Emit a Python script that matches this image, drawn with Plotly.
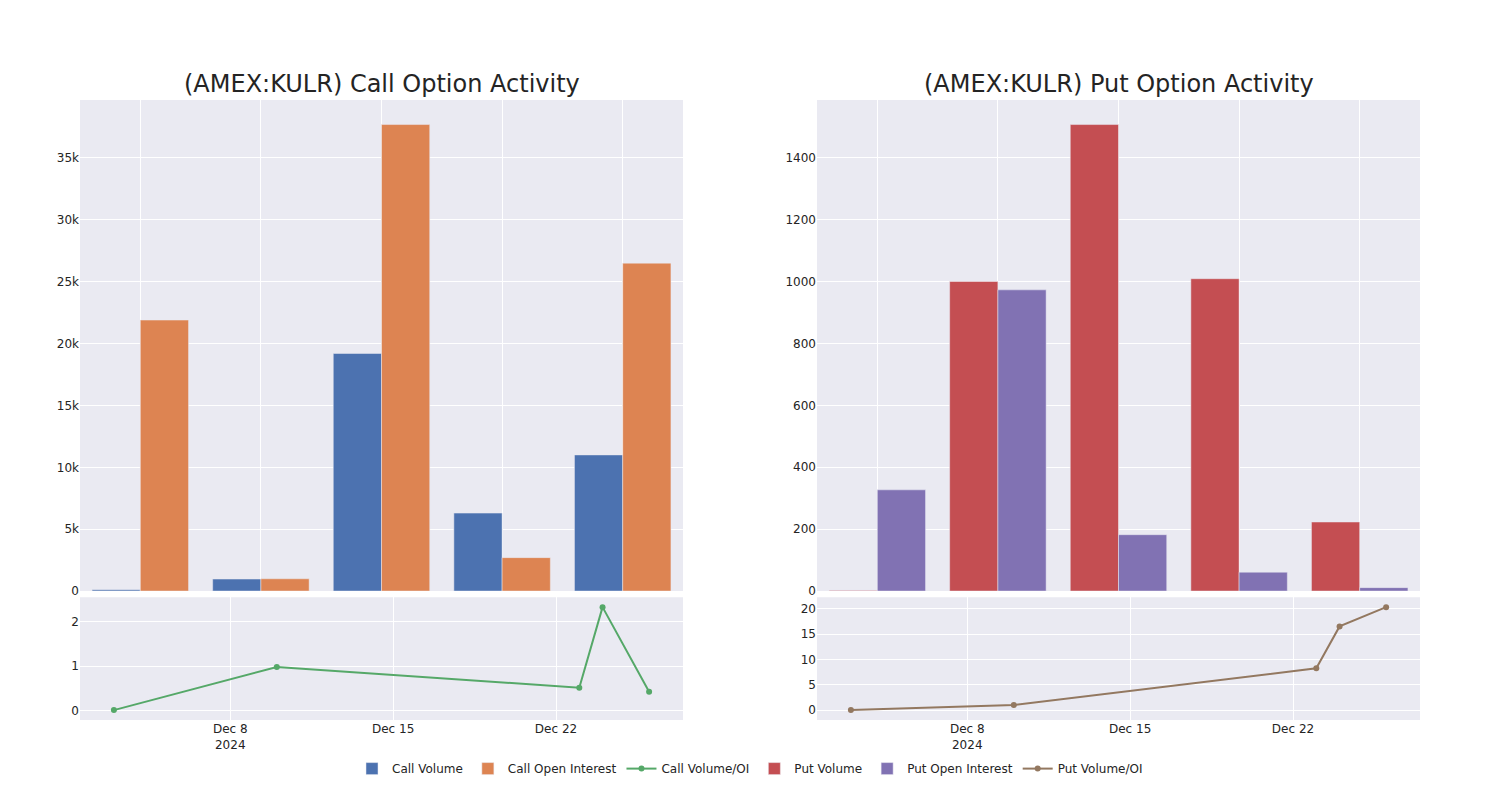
import plotly.graph_objects as go
from plotly.subplots import make_subplots

# Data
dates = ["2024-12-03", "2024-12-10", "2024-12-23", "2024-12-24", "2024-12-26"]
categories = ["Dec 3", "Dec 10", "Dec 23", "Dec 24", "Dec 26"]

call_volume = [100, 970, 19200, 6300, 11000]
call_open_interest = [21900, 990, 37700, 2700, 26500]
call_vol_oi = [0.005, 0.98, 0.51, 2.33, 0.42]

put_volume = [2, 1000, 1507, 1009, 223]
put_open_interest = [327, 973, 182, 61, 11]
put_vol_oi = [0.006, 1.03, 8.25, 16.5, 20.3]

title_left = "(AMEX:KULR) Call Option Activity"
title_right = "(AMEX:KULR) Put Option Activity"

fig = make_subplots(
    rows=2, cols=2,
    row_heights=[0.8, 0.2],
    vertical_spacing=0.01,
    horizontal_spacing=0.1,
    subplot_titles=(title_left, title_right, "", ""),
)

fig.add_trace(go.Bar(x=categories, y=call_volume, name="Call Volume"), row=1, col=1)
fig.add_trace(go.Bar(x=categories, y=call_open_interest, name="Call Open Interest"), row=1, col=1)
fig.add_trace(go.Scatter(x=dates, y=call_vol_oi, name="Call Volume/OI", mode="lines+markers"), row=2, col=1)
fig.add_trace(go.Bar(x=categories, y=put_volume, name="Put Volume"), row=1, col=2)
fig.add_trace(go.Bar(x=categories, y=put_open_interest, name="Put Open Interest"), row=1, col=2)
fig.add_trace(go.Scatter(x=dates, y=put_vol_oi, name="Put Volume/OI", mode="lines+markers"), row=2, col=2)

fig.update_layout(
    template="seaborn",
    width=1492, height=792,
    margin=dict(l=72, r=80, t=92, b=80),
    font=dict(family="DejaVu Sans"),
    barmode="group",
    bargap=0.2,
    legend=dict(orientation="h", x=0.5, xanchor="center", y=-0.055, yanchor="top"),
)
fig.update_xaxes(showticklabels=False, row=1, col=1)
fig.update_xaxes(showticklabels=False, row=1, col=2)
fig.update_xaxes(type="date", row=2, col=1)
fig.update_xaxes(type="date", row=2, col=2)
for ann in fig.layout.annotations:
    ann.font.size = 24

fig.write_html("out.html")
